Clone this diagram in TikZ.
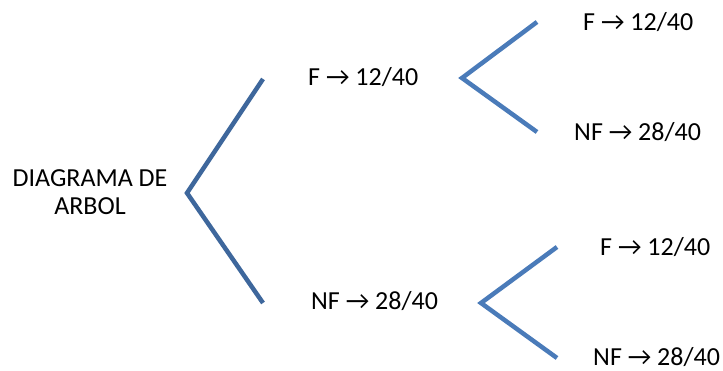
\documentclass[tikz,border=0pt]{standalone}
\usepackage{fontspec}
\setmainfont{Carlito}
\begin{document}
\begin{tikzpicture}[x=1pt,y=-1pt,
  lbl/.style={anchor=base west,inner sep=0pt,font=\fontsize{26}{31}\selectfont},
  brA/.style={draw=brDark,line width=4.5pt,line join=miter},
  brB/.style={draw=brLight,line width=4.5pt,line join=miter}]
\definecolor{brDark}{HTML}{3E679C}
\definecolor{brLight}{HTML}{4A7BB9}
\useasboundingbox (0,0) rectangle (723,371);
% labels
\node[anchor=base,inner sep=0pt,font=\fontsize{26}{31}\selectfont,align=center] (root) at (90,215) {DIAGRAMA DE\\[-3pt]ARBOL};
\node[lbl] (f1) at (308,86) {F → 12/40};
\node[lbl] (nf1) at (311,310) {NF → 28/40};
\node[lbl] (f2) at (583,31) {F → 12/40};
\node[lbl] (nf2) at (574,141) {NF → 28/40};
\node[lbl] (f3) at (600,256) {F → 12/40};
\node[lbl] (nf3) at (593,365) {NF → 28/40};
% bracket coordinates
\coordinate (a0) at (187,193);
\coordinate (a1) at (263,79);
\coordinate (a2) at (263,303);
\coordinate (b0) at (462,78);
\coordinate (b1) at (537,22);
\coordinate (b2) at (537,132);
\coordinate (c0) at (481,303);
\coordinate (c1) at (557,247);
\coordinate (c2) at (557,358);
\draw[brA] (a1) -- (a0) -- (a2);
\draw[brB] (b1) -- (b0) -- (b2);
\draw[brB] (c1) -- (c0) -- (c2);
\end{tikzpicture}
\end{document}
